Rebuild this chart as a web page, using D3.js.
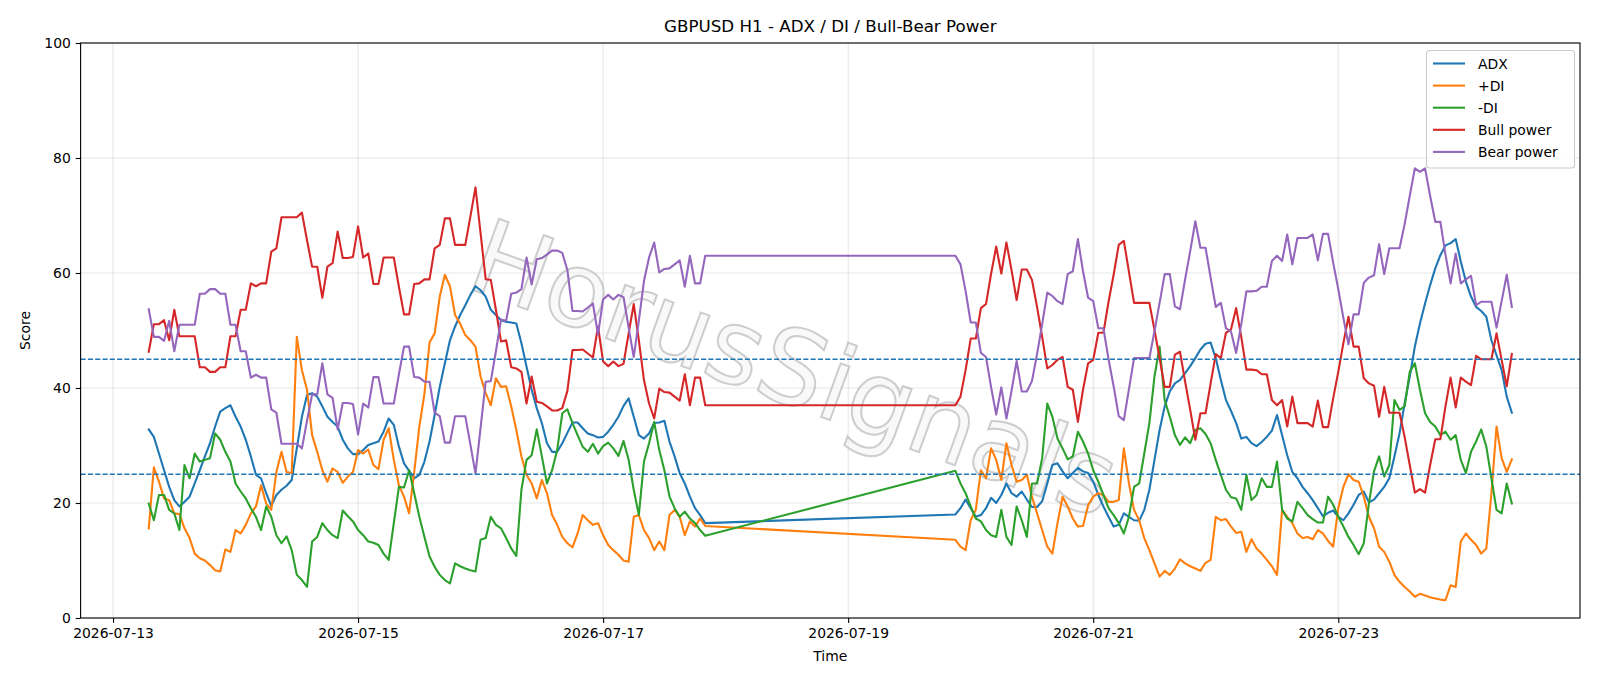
<!DOCTYPE html>
<html><head><meta charset="utf-8">
<script src="https://cdn.jsdelivr.net/npm/d3@7"></script>
<style>body{margin:0;background:#fff;} svg{display:block;font-family:"DejaVu Sans",sans-serif;}</style>
</head><body><svg id="chart" width="1600" height="686"></svg>
<script>
// hourly sessions (weekend gap between them)
const sessionStarts = ["2026-07-13T07:00:00Z", "2026-07-19T21:00:00Z"];
const sessionLengths = [110, 110];

const adx = [
32.8,31.5,28.6,25.7,22.8,20.5,19.4,20.2,21.1,23.4,
25.7,28.1,30.4,33.3,35.9,36.5,37.0,35.0,33.3,31.0,
28.1,24.9,24.3,21.7,19.5,21.4,22.3,23.0,24.0,29.5,
35.0,38.8,39.1,38.5,36.8,35.0,34.1,33.3,31.0,29.5,
28.5,28.5,29.2,30.1,30.4,30.7,32.4,34.7,33.6,29.8,
26.9,25.6,24.3,24.9,27.2,30.7,35.3,40.2,44.3,48.3,
50.7,52.7,54.4,56.2,57.7,57.0,55.9,53.6,52.7,51.8,
51.5,51.4,51.2,47.8,43.7,39.7,36.5,33.9,30.4,28.9,
28.9,30.4,32.2,34.0,34.0,33.0,32.1,31.8,31.4,31.5,
32.4,33.6,35.0,36.9,38.2,35.0,31.8,31.2,32.1,33.9,
34.0,34.3,30.7,28.1,25.2,23.4,21.1,19.1,17.9,16.5,
18.0,19.1,20.6,19.1,17.6,17.9,19.1,20.9,20.0,21.4,
23.4,21.7,21.1,22.0,20.6,19.3,19.3,20.3,23.4,26.6,
26.9,25.5,24.3,25.2,26.1,25.5,25.2,23.7,21.4,19.4,
17.6,15.9,16.2,18.2,17.6,17.0,16.9,18.8,22.3,27.5,
32.7,36.8,39.4,40.8,41.4,42.6,43.8,45.2,46.7,47.7,
47.9,45.2,41.4,37.9,36.0,33.9,31.2,31.5,30.4,29.9,
30.6,31.5,32.6,35.3,31.8,28.3,25.4,24.3,22.8,21.7,
20.5,19.1,17.7,18.3,18.7,17.6,17.0,18.2,19.7,21.4,
22.0,20.1,20.6,21.7,22.8,24.3,28.1,32.1,37.3,42.0,
47.2,51.2,54.7,57.9,60.8,63.1,64.8,65.2,65.9,62.0,
58.5,55.9,54.1,53.4,52.4,48.3,45.7,43.1,38.5,35.7
];
const plusDI = [
15.6,26.2,23.7,20.8,20.5,18.2,18.1,15.6,13.9,11.2,
10.4,10.0,9.2,8.3,8.1,11.9,11.5,15.3,14.7,16.2,
18.2,19.4,23.1,19.9,18.8,25.4,28.9,25.4,25.2,48.9,
43.1,39.7,31.8,28.9,25.7,23.7,26.0,25.4,23.5,24.6,
25.4,29.2,28.6,29.3,26.6,25.9,31.0,33.0,27.5,23.1,
21.1,18.2,25.4,33.3,39.0,47.9,49.5,55.9,59.7,57.7,
52.7,51.2,49.2,48.3,47.2,42.0,39.1,37.0,41.7,40.2,
40.3,36.8,32.7,28.1,24.9,23.4,20.8,24.0,21.7,17.9,
16.2,14.1,13.0,12.3,14.7,17.9,17.0,16.2,16.5,14.4,
12.7,11.8,11.0,10.0,9.8,17.6,17.9,15.3,13.9,11.8,
13.3,11.8,17.9,18.8,17.6,14.4,16.8,15.9,17.3,16.0,
13.6,12.4,11.8,17.0,18.8,25.7,24.3,29.5,27.5,24.0,
30.4,26.6,23.7,24.0,24.9,21.1,18.2,15.3,12.4,11.2,
16.5,21.1,19.4,17.3,15.9,16.0,19.6,21.1,21.7,21.4,
20.2,20.2,20.5,29.5,23.4,18.8,17.0,13.9,11.8,9.5,
7.2,8.2,7.5,8.6,10.2,9.5,9.0,8.6,8.2,9.6,
10.1,17.6,17.0,17.2,15.9,14.8,15.0,11.5,13.7,12.1,
11.2,10.1,9.0,7.5,18.8,17.6,16.5,14.7,13.9,14.1,
13.7,15.3,14.7,13.4,12.4,19.1,22.8,25.0,24.0,23.7,
21.1,17.6,15.6,12.4,11.5,9.8,7.5,6.3,5.4,4.6,
3.7,4.2,3.9,3.6,3.4,3.2,3.1,5.7,5.4,13.3,
14.7,13.6,12.7,11.2,12.1,21.7,33.3,27.8,25.4,27.6
];
const minusDI = [
19.9,17.0,21.4,21.4,18.8,18.2,15.3,26.6,24.3,28.6,
27.2,27.5,27.8,32.1,31.0,28.9,27.2,23.4,22.0,20.8,
19.1,17.6,15.3,19.4,17.6,14.4,13.0,14.2,11.8,7.5,
6.6,5.4,13.3,14.1,16.5,15.3,14.4,13.9,18.7,17.7,
16.8,15.3,14.4,13.3,13.1,12.7,11.2,10.1,16.5,22.8,
22.7,25.7,21.7,17.6,14.1,10.7,8.9,7.5,6.6,6.0,
9.5,9.0,8.6,8.3,8.1,13.6,13.9,17.6,16.2,15.6,
13.9,12.1,10.8,22.3,27.5,28.3,32.8,28.1,23.4,25.7,
29.2,35.6,36.3,33.9,31.8,29.8,28.9,30.3,28.6,29.9,
30.5,29.5,28.2,30.8,27.5,22.3,17.9,27.2,30.4,34.1,
29.2,25.7,21.1,19.1,17.6,18.5,17.3,16.5,15.3,14.3,
25.6,23.4,21.7,19.4,17.3,16.8,15.3,14.4,14.1,18.8,
14.1,12.7,19.4,17.0,14.1,23.4,23.4,27.8,37.3,35.0,
31.2,29.5,27.6,28.1,32.4,30.7,28.6,25.7,23.7,21.4,
19.1,17.9,16.5,14.7,17.6,22.8,23.4,28.6,33.9,42.0,
47.2,37.9,35.0,31.8,30.1,31.4,30.4,32.7,33.0,32.0,
30.4,27.5,24.9,22.3,21.0,20.8,18.8,24.9,20.5,21.4,
24.3,22.8,22.8,27.2,18.8,17.3,16.8,20.2,19.1,17.9,
17.2,16.6,16.6,21.1,19.7,17.6,15.9,14.1,12.7,11.1,
13.0,19.9,25.5,28.1,24.6,26.6,37.9,36.2,36.8,42.8,
44.3,39.7,35.6,34.1,33.3,31.8,32.4,31.0,31.8,27.5,
25.2,28.9,30.7,32.8,29.8,24.3,18.8,18.2,23.4,19.9
];
const bullPower = [
46.3,51.1,51.1,51.8,48.3,53.6,49.0,49.0,49.0,49.0,
43.6,43.6,42.8,42.8,43.6,43.6,49.0,49.0,53.6,53.6,
58.2,57.7,58.2,58.2,63.7,64.3,69.7,69.7,69.7,69.7,
70.5,65.7,61.1,61.1,55.7,61.1,61.7,67.2,62.6,62.6,
62.8,68.1,62.7,63.4,58.1,58.1,62.7,62.7,62.7,57.6,
52.8,52.8,58.1,58.2,58.9,58.9,64.3,64.9,69.5,69.5,
64.9,64.9,64.9,69.8,74.9,66.9,58.9,58.8,53.6,48.1,
48.3,43.6,43.4,42.8,37.3,42.0,37.6,37.4,36.8,36.1,
36.1,36.5,39.5,46.6,46.6,46.7,46.0,45.3,50.7,44.6,
43.8,44.6,43.8,44.2,49.5,54.6,48.3,41.4,37.3,34.7,
39.9,39.3,39.2,38.5,37.8,42.4,37.0,41.8,41.8,37.0,
37.0,38.5,43.1,48.6,48.6,53.9,54.6,59.9,64.6,59.9,
65.3,60.5,55.3,60.6,60.6,58.8,54.1,48.9,43.4,44.0,
44.9,45.4,40.2,39.7,34.1,39.7,44.3,44.9,49.6,49.6,
55.0,59.7,64.9,65.6,60.2,54.8,54.8,54.8,54.8,50.1,
45.2,40.2,40.2,45.8,46.3,41.1,36.2,31.0,35.6,35.6,
40.8,45.9,45.2,49.6,50.2,53.9,48.9,43.2,43.2,43.1,
42.4,42.4,37.9,37.0,37.9,33.3,38.5,33.9,33.9,33.9,
33.3,37.8,33.2,33.2,38.2,42.8,47.8,52.4,47.2,47.2,
41.7,40.8,40.4,35.0,40.2,35.7,35.7,35.7,31.5,26.6,
21.8,22.4,21.8,26.6,31.1,31.1,36.8,41.8,36.6,41.8,
41.1,40.5,45.6,45.0,45.0,45.0,49.5,44.9,40.3,45.9
];
const bearPower = [
53.7,48.9,48.9,48.2,51.7,46.4,51.0,51.0,51.0,51.0,
56.4,56.4,57.2,57.2,56.4,56.4,51.0,51.0,46.4,46.4,
41.8,42.3,41.8,41.8,36.3,35.7,30.3,30.3,30.3,30.3,
29.5,34.3,38.9,38.9,44.3,38.9,38.3,32.8,37.4,37.4,
37.2,31.9,37.3,36.6,41.9,41.9,37.3,37.3,37.3,42.4,
47.2,47.2,41.9,41.8,41.1,41.1,35.7,35.1,30.5,30.5,
35.1,35.1,35.1,30.2,25.1,33.1,41.1,41.2,46.4,51.9,
51.7,56.4,56.6,57.2,62.7,58.0,62.4,62.6,63.2,63.9,
63.9,63.5,60.5,53.4,53.4,53.3,54.0,54.7,49.3,55.4,
56.2,55.4,56.2,55.8,50.5,45.4,51.7,58.6,62.7,65.3,
60.1,60.7,60.8,61.5,62.2,57.6,63.0,58.2,58.2,63.0,
63.0,61.5,56.9,51.4,51.4,46.1,45.4,40.1,35.4,40.1,
34.7,39.5,44.7,39.4,39.4,41.2,45.9,51.1,56.6,56.0,
55.1,54.6,59.8,60.3,65.9,60.3,55.7,55.1,50.4,50.4,
45.0,40.3,35.1,34.4,39.8,45.2,45.2,45.2,45.2,49.9,
54.8,59.8,59.8,54.2,53.7,58.9,63.8,69.0,64.4,64.4,
59.2,54.1,54.8,50.4,49.8,46.1,51.1,56.8,56.8,56.9,
57.6,57.6,62.1,63.0,62.1,66.7,61.5,66.1,66.1,66.1,
66.7,62.2,66.8,66.8,61.8,57.2,52.2,47.6,52.8,52.8,
58.3,59.2,59.6,65.0,59.8,64.3,64.3,64.3,68.5,73.4,
78.2,77.6,78.2,73.4,68.9,68.9,63.2,58.2,63.4,58.2,
58.9,59.5,54.4,55.0,55.0,55.0,50.5,55.1,59.7,54.1
];

const seriesNames = ["ADX", "+DI", "-DI", "Bull power", "Bear power"];
const seriesColors = ["#1f77b4", "#ff7f0e", "#2ca02c", "#d62728", "#9467bd"];
const xTickLabels = ["2026-07-13", "2026-07-15", "2026-07-17", "2026-07-19", "2026-07-21", "2026-07-23"];
const yTickValues = [0, 20, 40, 60, 80, 100];
const thresholdLevels = [45, 25];
const titleText = "GBPUSD H1 - ADX / DI / Bull-Bear Power";
const xLabelText = "Time";
const yLabelText = "Score";
const watermarkText = "HorusSignals";

// hourly timestamps
const times = [];
sessionStarts.forEach((s, i) => {
  const t0 = new Date(s).getTime();
  for (let k = 0; k < sessionLengths[i]; k++) times.push(new Date(t0 + k * 3600e3));
});
const seriesData = [adx, plusDI, minusDI, bullPower, bearPower];
seriesData.forEach((a, i) => { if (a.length !== times.length) throw new Error(seriesNames[i] + " length " + a.length); });

const L = 80.6, R = 1580, T = 43, B = 618;
const svg = d3.select("#chart");

const [tmin, tmax] = d3.extent(times);
const pad = (tmax - tmin) * 0.05;
const x = d3.scaleUtc().domain([new Date(+tmin - pad), new Date(+tmax + pad)]).range([L, R]);
const y = d3.scaleLinear().domain([0, 100]).range([B, T]);
const parseDay = d3.utcParse("%Y-%m-%d");
const xTicks = xTickLabels.map(parseDay);

// grid
const grid = svg.append("g");
grid.selectAll(".gx").data(xTicks).enter().append("line")
  .attr("x1", d => x(d)).attr("x2", d => x(d)).attr("y1", T).attr("y2", B)
  .attr("stroke", "#b0b0b0").attr("stroke-opacity", 0.3).attr("stroke-width", 1.1);
grid.selectAll(".gy").data(yTickValues).enter().append("line")
  .attr("x1", L).attr("x2", R).attr("y1", d => y(d)).attr("y2", d => y(d))
  .attr("stroke", "#b0b0b0").attr("stroke-opacity", 0.3).attr("stroke-width", 1.1);

// watermark
svg.append("text")
  .attr("transform", "translate(792,376) rotate(20)")
  .attr("text-anchor", "middle").attr("dominant-baseline", "middle")
  .attr("font-size", 104).attr("font-family", "DejaVu Sans")
  .attr("fill", "#f4f4f4").attr("fill-opacity", 0.5)
  .attr("stroke", "#a0a0a0").attr("stroke-opacity", 0.5).attr("stroke-width", 2)
  .text(watermarkText);

// clip
svg.append("clipPath").attr("id", "clip").append("rect").attr("x", L).attr("y", T).attr("width", R - L).attr("height", B - T);

const line = d3.line().x((d, i) => x(times[i])).y(d => y(d));
const lines = svg.append("g").attr("clip-path", "url(#clip)");
seriesData.forEach((arr, i) => {
  lines.append("path").datum(arr).attr("d", line)
    .attr("fill", "none").attr("stroke", seriesColors[i]).attr("stroke-width", 2.1)
    .attr("stroke-linejoin", "round").attr("stroke-linecap", "square");
});
thresholdLevels.forEach(v => {
  lines.append("line").attr("x1", L).attr("x2", R).attr("y1", y(v)).attr("y2", y(v))
    .attr("stroke", "#1f77b4").attr("stroke-width", 1.4).attr("stroke-dasharray", "5.1,2.2");
});

// axes
const xAxis = d3.axisBottom(x).tickValues(xTicks).tickFormat(d3.utcFormat("%Y-%m-%d")).tickSizeOuter(0).tickSize(4.9).tickPadding(4.9);
const yAxis = d3.axisLeft(y).tickValues(yTickValues).tickSizeOuter(0).tickSize(4.9).tickPadding(4.9);
const gx = svg.append("g").attr("transform", `translate(0,${B})`).call(xAxis);
const gy = svg.append("g").attr("transform", `translate(${L},0)`).call(yAxis);
[gx, gy].forEach(g => {
  g.select(".domain").remove();
  g.selectAll(".tick line").attr("stroke", "#000").attr("stroke-width", 1.1);
  g.selectAll(".tick text").attr("font-size", 13.9).attr("font-family", "DejaVu Sans").attr("fill", "#000");
});
// frame
svg.append("rect").attr("x", L).attr("y", T).attr("width", R - L).attr("height", B - T)
  .attr("fill", "none").attr("stroke", "#000").attr("stroke-width", 1.1);

// texts
svg.append("text").attr("x", (L + R) / 2).attr("y", 32).attr("text-anchor", "middle")
  .attr("font-size", 16.7).attr("fill", "#000").text(titleText);
svg.append("text").attr("x", (L + R) / 2).attr("y", 661).attr("text-anchor", "middle")
  .attr("font-size", 13.9).attr("fill", "#000").text(xLabelText);
svg.append("text").attr("transform", `translate(30,${(T + B) / 2}) rotate(-90)`).attr("text-anchor", "middle")
  .attr("font-size", 13.9).attr("fill", "#000").text(yLabelText);

// legend
const lg = svg.append("g");
lg.append("rect").attr("x", 1426.5).attr("y", 50.5).attr("width", 148).attr("height", 117.5)
  .attr("rx", 3).attr("fill", "#fff").attr("fill-opacity", 0.8).attr("stroke", "#cccccc").attr("stroke-width", 1.1);
seriesNames.forEach((n, i) => {
  const cy = 63.5 + i * 22.1;
  lg.append("line").attr("x1", 1433).attr("x2", 1465).attr("y1", cy).attr("y2", cy)
    .attr("stroke", seriesColors[i]).attr("stroke-width", 2.1);
  lg.append("text").attr("x", 1478).attr("y", cy + 5).attr("font-size", 13.9).attr("fill", "#000").text(n);
});
</script></body></html>
